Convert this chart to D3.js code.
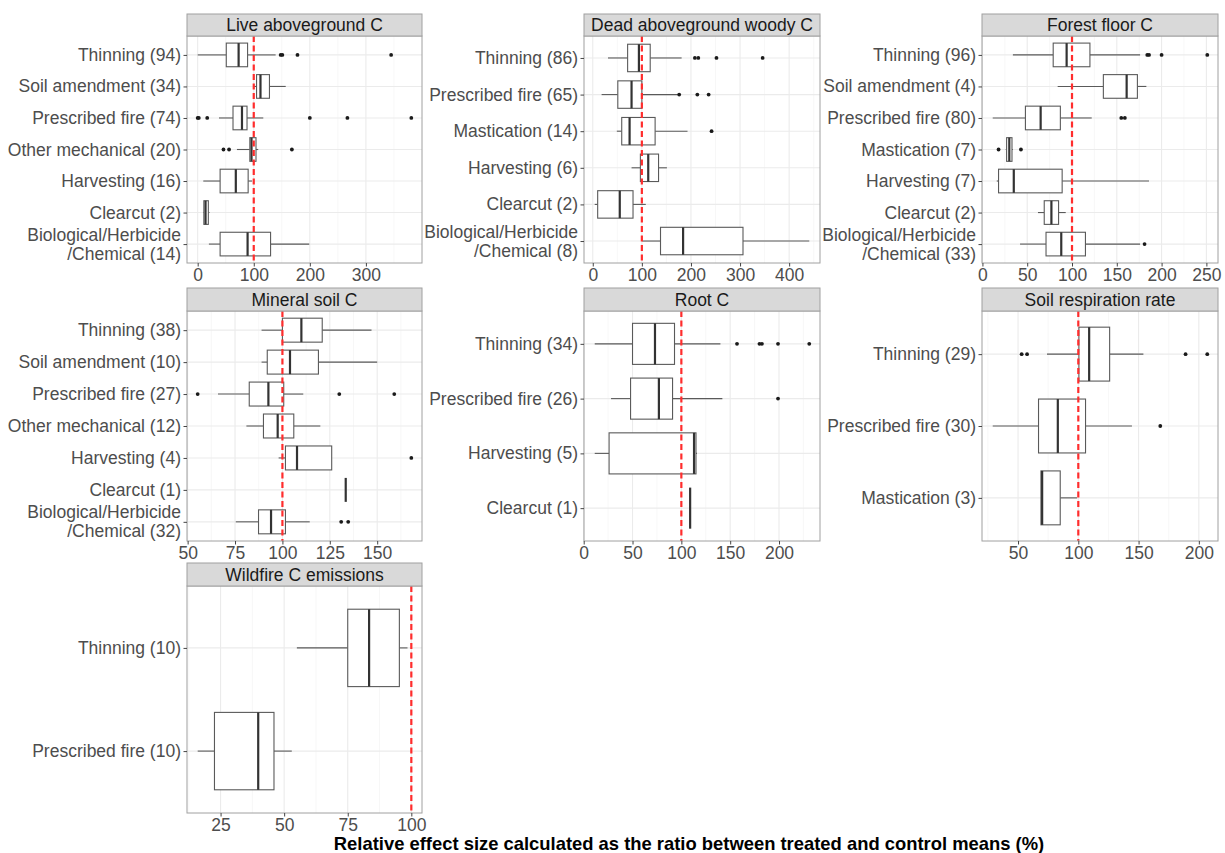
<!DOCTYPE html>
<html><head><meta charset="utf-8">
<script src="https://cdn.jsdelivr.net/npm/d3@7"></script>
<style>body{margin:0;background:#fff} svg{display:block} text{font-family:"Liberation Sans",Arial,Helvetica,sans-serif}</style>
</head><body><svg id="c" width="1225" height="853"></svg>
<script>
// ---- data: [whiskerLow, q1, median, q3, whiskerHigh] and outliers ----
const liveCats = ["Thinning (94)","Soil amendment (34)","Prescribed fire (74)","Other mechanical (20)","Harvesting (16)","Clearcut (2)","Biological/Herbicide\n/Chemical (14)"];
const liveStats = [[0,51,73,89,139],[99,105,112,128,157],[38,63,79,88,117],[70,93,96,104,108],[10,40,68,90,97],[10,11,14,19,21],[20,40,89,130,199]];
const liveOut = [[148,151,178,345],[],[0,2,17,200,267,381],[46,56,168],[],[],[]];
const liveTicks = [0,100,200,300];

const deadCats = ["Thinning (86)","Prescribed fire (65)","Mastication (14)","Harvesting (6)","Clearcut (2)","Biological/Herbicide\n/Chemical (8)"];
const deadStats = [[31,71,94,117,181],[18,51,79,100,173],[49,59,75,127,193],[79,97,113,134,151],[4,10,55,82,108],[101,138,184,306,441]];
const deadOut = [[208,215,252,346],[176,213,236],[242],[],[],[]];
const deadTicks = [0,100,200,300,400];

const floorCats = ["Thinning (96)","Soil amendment (4)","Prescribed fire (80)","Mastication (7)","Harvesting (7)","Clearcut (2)","Biological/Herbicide\n/Chemical (33)"];
const floorStats = [[34,79,94,120,176],[84,135,161,173,183],[11.5,48,65,87,122],[26,27,30,33,34],[16,18,35,89,186],[62,69,77,85,93],[42,71,88,115,176]];
const floorOut = [[184,186,200,251],[],[155,159],[18,43],[],[],[181]];
const floorTicks = [0,50,100,150,200,250];

const mineralCats = ["Thinning (38)","Soil amendment (10)","Prescribed fire (27)","Other mechanical (12)","Harvesting (4)","Clearcut (1)","Biological/Herbicide\n/Chemical (32)"];
const mineralStats = [[89,100,110,121,147],[89,92,104,119,150],[66,82.5,92.6,100.7,111],[81,90,97.5,106,120],[98,101.6,107.7,126,126],[133.4,133.4,133.4,133.4,133.4],[75.4,87.4,94,101.6,114.4]];
const mineralOut = [[],[],[55.3,130,159],[],[168],[],[131,134.7]];
const mineralTicks = [50,75,100,125,150];

const rootCats = ["Thinning (34)","Prescribed fire (26)","Harvesting (5)","Clearcut (1)"];
const rootStats = [[11.3,50,73,93,140],[28,48,77,91,142],[11.3,26,113,115,116],[109,109,109,109,109]];
const rootOut = [[157,180,182.5,199,231],[199],[],[]];
const rootTicks = [0,50,100,150,200];

const respCats = ["Thinning (29)","Prescribed fire (30)","Mastication (3)"];
const respStats = [[74,100.5,109,126,154],[29,67,83,106,144.5],[69,69,70,85,99]];
const respOut = [[53,57.5,189,207],[168],[]];
const respTicks = [50,100,150,200];

const wildCats = ["Thinning (10)","Prescribed fire (10)"];
const wildStats = [[55,75,83.4,95.3,98.5],[16,22.6,39.8,46,53]];
const wildOut = [[],[]];
const wildTicks = [25,50,75,100];

const titles = ["Live aboveground C","Dead aboveground woody C","Forest floor C","Mineral soil C","Root C","Soil respiration rate","Wildfire C emissions"];
const xTitle = "Relative effect size calculated as the ratio between treated and control means (%)";

// ---- layout ----
const COLS = [[187,422],[584,820],[982,1218]];
const ROWS = [{strip:14, top:36, bottom:263},{strip:288, top:311, bottom:541},{strip:563, top:586, bottom:813}];

const panels = [
  {cats:liveCats, stats:liveStats, out:liveOut, ticks:liveTicks},
  {cats:deadCats, stats:deadStats, out:deadOut, ticks:deadTicks},
  {cats:floorCats, stats:floorStats, out:floorOut, ticks:floorTicks},
  {cats:mineralCats, stats:mineralStats, out:mineralOut, ticks:mineralTicks},
  {cats:rootCats, stats:rootStats, out:rootOut, ticks:rootTicks},
  {cats:respCats, stats:respStats, out:respOut, ticks:respTicks},
  {cats:wildCats, stats:wildStats, out:wildOut, ticks:wildTicks}
];

const svg = d3.select("#c");
const FS = 17.5;
const txtCol = "#4D4D4D";

panels.forEach((p, i) => {
  const col = COLS[i % 3], row = ROWS[Math.floor(i / 3)];
  const all = [100].concat(p.stats.flat(), p.out.flat());
  let lo = d3.min(all), hi = d3.max(all);
  const pad = (hi - lo) * 0.05;
  const x = d3.scaleLinear().domain([lo - pad, hi + pad]).range(col);
  const y = d3.scalePoint().domain(p.cats).range([row.top, row.bottom]).padding(0.6);
  const step = y.step();
  const g = svg.append("g");

  g.append("rect").attr("x", col[0]).attr("y", row.top).attr("width", col[1]-col[0]).attr("height", row.bottom-row.top).attr("fill", "#fff");

  // minor gridlines
  const st = p.ticks[1] - p.ticks[0];
  const minors = [];
  for (let v = p.ticks[0] - st/2; v <= x.domain()[1]; v += st) if (v >= x.domain()[0]) minors.push(v);
  g.selectAll(".mn").data(minors).join("line")
    .attr("x1", d => x(d)).attr("x2", d => x(d)).attr("y1", row.top).attr("y2", row.bottom)
    .attr("stroke", "#F2F2F2").attr("stroke-width", 0.6);
  g.selectAll(".mj").data(p.ticks).join("line")
    .attr("x1", d => x(d)).attr("x2", d => x(d)).attr("y1", row.top).attr("y2", row.bottom)
    .attr("stroke", "#EBEBEB").attr("stroke-width", 1.1);
  g.selectAll(".hg").data(p.cats).join("line")
    .attr("x1", col[0]).attr("x2", col[1]).attr("y1", d => y(d)).attr("y2", d => y(d))
    .attr("stroke", "#EBEBEB").attr("stroke-width", 1.1);

  // boxes
  const bh = step * 0.75;
  p.cats.forEach((c, k) => {
    const s = p.stats[k], cy = y(c);
    const bc = "#5a5a5a";
    g.append("line").attr("x1", x(s[0])).attr("x2", x(s[1])).attr("y1", cy).attr("y2", cy).attr("stroke", bc).attr("stroke-width", 1.1);
    g.append("line").attr("x1", x(s[3])).attr("x2", x(s[4])).attr("y1", cy).attr("y2", cy).attr("stroke", bc).attr("stroke-width", 1.1);
    g.append("rect").attr("x", x(s[1])).attr("y", cy - bh/2).attr("width", Math.max(0, x(s[3]) - x(s[1]))).attr("height", bh)
      .attr("fill", "#fff").attr("stroke", bc).attr("stroke-width", 1.1);
    g.append("line").attr("x1", x(s[2])).attr("x2", x(s[2])).attr("y1", cy - bh/2).attr("y2", cy + bh/2).attr("stroke", "#333").attr("stroke-width", 2.2);
    g.selectAll(null).data(p.out[k]).join("circle")
      .attr("cx", d => x(d)).attr("cy", cy).attr("r", 1.9).attr("fill", "#1a1a1a");
  });

  // reference line
  g.append("line").attr("x1", x(100)).attr("x2", x(100)).attr("y1", row.top).attr("y2", row.bottom)
    .attr("stroke", "#FF2D2D").attr("stroke-width", 2.2).attr("stroke-dasharray", "6,3.5");

  // border
  g.append("rect").attr("x", col[0]).attr("y", row.top).attr("width", col[1]-col[0]).attr("height", row.bottom-row.top)
    .attr("fill", "none").attr("stroke", "#A0A0A0").attr("stroke-width", 1);
  // strip
  g.append("rect").attr("x", col[0]).attr("y", row.strip).attr("width", col[1]-col[0]).attr("height", row.top-row.strip)
    .attr("fill", "#D9D9D9").attr("stroke", "#A0A0A0").attr("stroke-width", 1);
  g.append("text").attr("x", (col[0]+col[1])/2).attr("y", (row.strip+row.top)/2 + 6).attr("text-anchor", "middle")
    .attr("font-size", FS).attr("fill", "#1A1A1A").text(titles[i]);

  // x axis
  const xa = g.append("g").attr("transform", `translate(0,${row.bottom})`)
    .call(d3.axisBottom(x).tickValues(p.ticks).tickSize(3.5).tickPadding(2.5).tickFormat(d3.format("d")));
  xa.select(".domain").remove();
  xa.selectAll(".tick line").attr("stroke", "#444");
  xa.selectAll("text").attr("font-size", FS).attr("fill", txtCol).attr("font-family", "Liberation Sans, Arial, sans-serif");

  // y axis
  const ya = g.append("g").attr("transform", `translate(${col[0]},0)`)
    .call(d3.axisLeft(y).tickSize(3.5).tickPadding(3).tickFormat(""));
  ya.select(".domain").remove();
  ya.selectAll(".tick line").attr("stroke", "#444");
  p.cats.forEach(c => {
    const lines = c.split("\n");
    const t = g.append("text").attr("text-anchor", "end").attr("font-size", FS).attr("fill", txtCol);
    const lh = 19;
    lines.forEach((ln, j) => {
      t.append("tspan").attr("x", col[0] - 6).attr("y", y(c) + 6 + (j - (lines.length-1)/2) * lh).text(ln);
    });
  });
});

svg.append("text").attr("x", 689).attr("y", 850).attr("text-anchor", "middle")
  .attr("font-size", 18.4).attr("font-weight", "bold").attr("fill", "#000").text(xTitle);
</script>
</body></html>
